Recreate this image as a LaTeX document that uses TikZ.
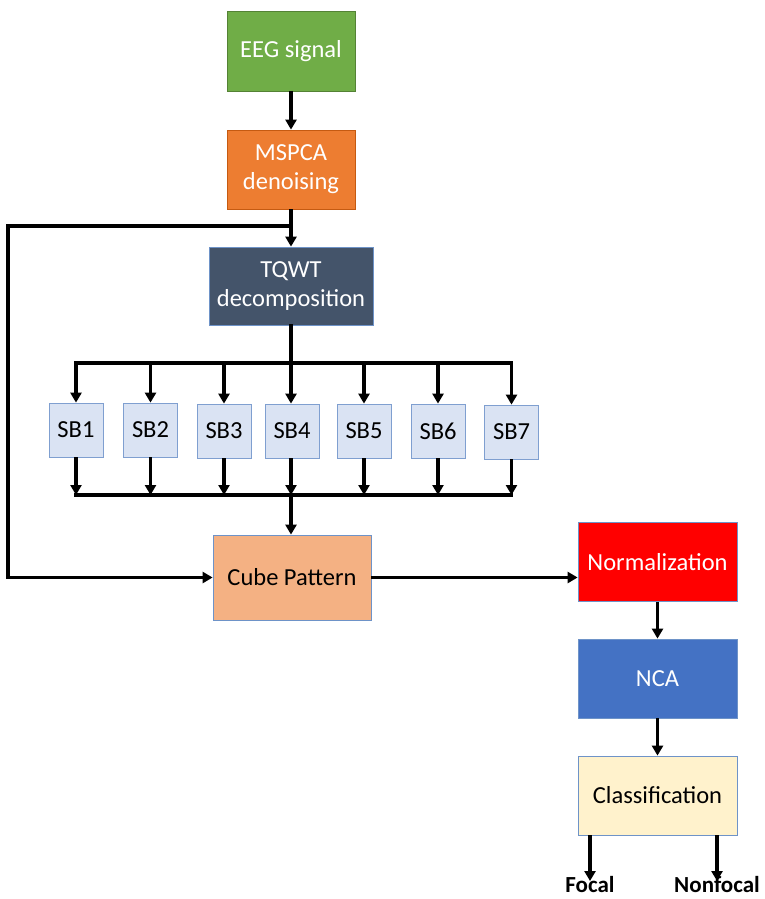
\documentclass[tikz,border=0pt]{standalone}
\usepackage{fontspec}
\setmainfont{Carlito}
\usetikzlibrary{arrows.meta}
\definecolor{cgreen}{HTML}{70AD47}
\definecolor{cgreenb}{HTML}{548235}
\definecolor{corange}{HTML}{ED7D31}
\definecolor{corangeb}{HTML}{C55A11}
\definecolor{cslate}{HTML}{44546A}
\definecolor{csb}{HTML}{DAE3F3}
\definecolor{csbb}{HTML}{7F9FD0}
\definecolor{ccube}{HTML}{F4B183}
\definecolor{cred}{HTML}{FF0000}
\definecolor{cblue}{HTML}{4472C4}
\definecolor{ccls}{HTML}{FFF2CC}
\definecolor{cbord}{HTML}{6E93C8}
\begin{document}
\begin{tikzpicture}[x=1pt,y=-1pt,
  box/.style={draw=cbord, line width=0.8pt, inner sep=0pt, align=center,
    font=\fontsize{24.5}{29}\selectfont},
  sbbox/.style={box, draw=csbb, fill=csb, minimum width=54pt, minimum height=54pt},
  bigbox/.style={box, minimum width=159pt, minimum height=79pt},
  conn/.style={line width=3.3pt, -{Triangle[length=10pt,width=11pt]}},
  wire/.style={line width=3.3pt, line cap=rect},
  outlbl/.style={font=\fontsize{23}{27}\selectfont\bfseries, inner sep=0pt}]
\useasboundingbox (0,0) rectangle (765,899);
\node[box, draw=cgreenb, fill=cgreen, text=white, minimum width=128pt, minimum height=80pt] (eeg) at (291,51) {EEG signal};
\node[box, draw=corangeb, fill=corange, text=white, minimum width=128pt, minimum height=79pt] (mspca) at (291,169.5) {MSPCA\\denoising};
\node[box, fill=cslate, text=white, minimum width=164pt, minimum height=78pt] (tqwt) at (291,286) {TQWT\\decomposition};
\node[sbbox] (sb1) at (76,430) {SB1};
\node[sbbox] (sb2) at (150.5,430) {SB2};
\node[sbbox] (sb3) at (224,431) {SB3};
\node[sbbox] (sb4) at (292,431) {SB4};
\node[sbbox] (sb5) at (364,431) {SB5};
\node[sbbox] (sb6) at (438,431) {SB6};
\node[sbbox] (sb7) at (511.5,432) {SB7};
\node[box, fill=ccube, minimum width=158pt, minimum height=85pt] (cube) at (292,577.5) {Cube Pattern};
\node[bigbox, fill=cred, text=white] (norm) at (657.5,562) {Normalization};
\node[bigbox, fill=cblue, text=white] (nca) at (657.5,678.5) {NCA};
\node[bigbox, fill=ccls] (cls) at (657.5,795.5) {Classification};
\node[outlbl, anchor=north] (focal) at (590,876) {Focal};
\node[outlbl, anchor=north] (nonfocal) at (717,876) {Nonfocal};
% coordinates
\coordinate (split) at (291,226);
\coordinate (lt) at (8,226);
\coordinate (tb) at (291,363);
\coordinate (tbl) at (76,363);
\coordinate (tbr) at (511.5,363);
\coordinate (bb) at (291,495);
\coordinate (bbl) at (76,495);
\coordinate (bbr) at (511.5,495);
% connectors
\draw[conn] (eeg) -- (mspca);
\draw[conn] (mspca.south -| split) -- (tqwt.north -| split);
\draw[conn] (split) -- (lt) |- (cube.west);
\draw[wire] (tqwt.south -| tb) -- (tb);
\draw[wire] (tbl) -- (tbr);
\foreach \s in {sb1,sb2,sb3,sb5,sb6,sb7}{
  \draw[conn] (tb -| \s.north) -- (\s.north);
  \draw[conn] (\s.south) -- (bb -| \s.south);
}
\draw[conn] (tb) -- (sb4.north -| tb);
\draw[conn] (sb4.south -| tb) -- (bb);
\draw[wire] (bbl) -- (bbr);
\draw[conn] (bb) -- (cube.north -| bb);
\draw[conn] (cube.east) -- (norm.west |- cube.east);
\draw[conn] (norm) -- (nca);
\draw[conn] (nca) -- (cls);
\draw[conn] (cls.south -| focal) -- ([yshift=-5pt]focal.north);
\draw[conn] (cls.south -| nonfocal) -- ([yshift=-5pt]nonfocal.north);
\end{tikzpicture}
\end{document}
